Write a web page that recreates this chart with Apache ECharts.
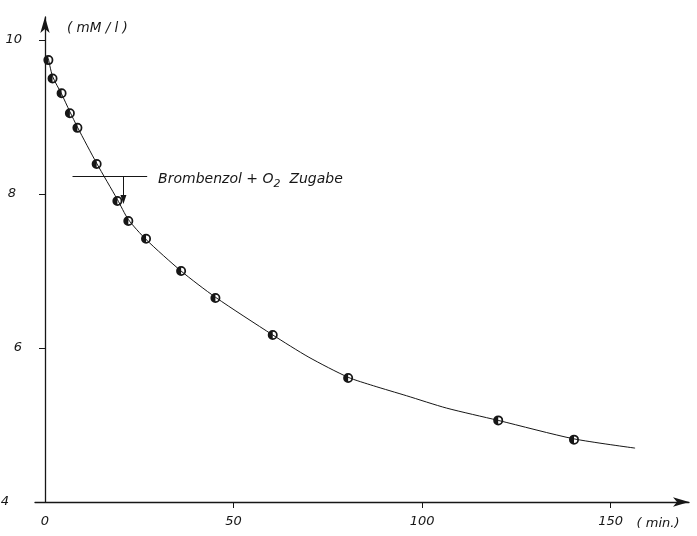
<!DOCTYPE html>
<html><head><meta charset="utf-8">
<script src="https://cdn.jsdelivr.net/npm/echarts@6/dist/echarts.min.js"></script>
<style>html,body{margin:0;padding:0;background:#fff}#c{width:697px;height:536px}</style>
</head><body><div id="c"></div>
<script>
// measured points (time in min, concentration in mM/l)
const timeMin = [0.9, 2.0, 4.4, 6.6, 8.6, 13.7, 19.2, 22.1, 26.8, 36.1, 45.2, 60.4, 80.4, 120.2, 140.3];
const conc    = [9.74, 9.50, 9.31, 9.05, 8.86, 8.39, 7.91, 7.65, 7.42, 7.00, 6.65, 6.17, 5.61, 5.06, 4.81];
// fitted curve
const curveTime = [0.9, 2.0, 4.4, 6.6, 8.6, 13.7, 19.2, 22.1, 26.8, 36.1, 45.2, 60.4, 70.0, 80.4, 87.1, 95.9, 106.5, 120.2, 140.3, 156.5];
const curveConc = [9.76, 9.53, 9.30, 9.07, 8.87, 8.40, 7.93, 7.67, 7.41, 7.00, 6.66, 6.17, 5.88, 5.62, 5.51, 5.38, 5.22, 5.06, 4.82, 4.70];
// tick labels
const xTicks = [0, 50, 100, 150];
const yTicks = [4, 6, 8, 10];
// annotation
const noteLineX = [7.3, 27.1];
const noteLineY = 8.23;
const arrowX = 20.8;
const arrowY = [8.23, 7.93];
const notePos = [30.0, 8.19];

const ink = '#161616';
const fontFam = '"DejaVu Sans", sans-serif';
const halfCircle = 'path://M0,-10A10,10,0,1,1,0,10A10,10,0,1,1,0,-10ZM0,-6.5L0,6.5A6.5,6.5,0,0,0,0,-6.5Z';

const chart = echarts.init(document.getElementById('c'), null, {renderer: 'canvas'});
chart.setOption({
  animation: false,
  backgroundColor: '#ffffff',
  grid: {left: 35, right: 8, top: 17, bottom: 34, containLabel: false, outerBoundsMode: 'none'},
  xAxis: {
    type: 'value', min: -2.65, max: 170.8,
    name: '( min.)', nameLocation: 'end', nameGap: -31,
    nameTextStyle: {color: ink, fontFamily: fontFam, fontStyle: 'italic', fontSize: 13, align: 'center', verticalAlign: 'top', padding: [15, 0, 0, 0]},
    axisLine: {onZero: false, lineStyle: {color: ink, width: 1.3}, symbol: ['none', 'arrow'], symbolSize: [7, 16]},
    axisTick: {show: true, length: 6, inside: false, customValues: xTicks.slice(1), lineStyle: {color: ink}},
    axisLabel: {customValues: xTicks, margin: 13, color: ink, fontFamily: fontFam, fontStyle: 'italic', fontSize: 13},
    splitLine: {show: false}
  },
  yAxis: {
    type: 'value', min: 4, max: 10.3,
    offset: -10,
    name: '( mM / l )', nameLocation: 'end', nameGap: -18,
    nameTextStyle: {color: ink, fontFamily: fontFam, fontStyle: 'italic', fontSize: 13.5, align: 'left', verticalAlign: 'bottom', padding: [0, 0, 0, 22]},
    axisLine: {onZero: false, lineStyle: {color: ink, width: 1.3}, symbol: ['none', 'arrow'], symbolSize: [7, 16]},
    axisTick: {show: true, length: 6, inside: false, customValues: yTicks, lineStyle: {color: ink}},
    axisLabel: {
      customValues: yTicks, margin: 23, color: ink, fontFamily: fontFam, fontStyle: 'italic', fontSize: 13,
      formatter: function (v) { return v === 4 ? '{f|' + v + '}' : (v === 8 ? '{e|' + v + '}' : String(v)); },
      rich: {
        f: {padding: [0, 13, 0, 0], color: ink, fontFamily: fontFam, fontStyle: 'italic', fontSize: 13},
        e: {padding: [0, 6, 0, 0], color: ink, fontFamily: fontFam, fontStyle: 'italic', fontSize: 13}
      }
    },
    splitLine: {show: false}
  },
  series: [
    {
      type: 'line',
      data: curveTime.map((t, i) => [t, curveConc[i]]),
      smooth: 0.25,
      showSymbol: false,
      silent: true,
      z: 2,
      lineStyle: {color: ink, width: 1},
      markLine: {
        silent: true,
        animation: false,
        label: {show: false},
        lineStyle: {color: ink, width: 1, type: 'solid'},
        symbolSize: [6, 9],
        data: [
          [{coord: [noteLineX[0], noteLineY], symbol: 'none'}, {coord: [noteLineX[1], noteLineY], symbol: 'none'}],
          [{coord: [arrowX, arrowY[0]], symbol: 'none'}, {coord: [arrowX, arrowY[1]], symbol: 'triangle'}]
        ]
      }
    },
    {
      type: 'scatter',
      data: timeMin.map((t, i) => [t, conc[i]]),
      symbol: halfCircle,
      symbolSize: 10,
      z: 3,
      itemStyle: {color: ink, opacity: 1},
      markPoint: {
        silent: true,
        symbol: 'circle',
        symbolSize: 0,
        data: [{coord: notePos}],
        label: {
          show: true,
          position: 'right',
          distance: 0,
          formatter: 'Brombenzol + O{s|2}  Zugabe',
          color: ink, fontFamily: fontFam, fontStyle: 'italic', fontSize: 14, lineHeight: 20,
          rich: {
            s: {fontSize: 11, fontStyle: 'italic', fontFamily: fontFam, color: ink, verticalAlign: 'bottom', lineHeight: 14, padding: [7, 0, 0, 0]}
          }
        }
      }
    }
  ]
});
</script></body></html>
